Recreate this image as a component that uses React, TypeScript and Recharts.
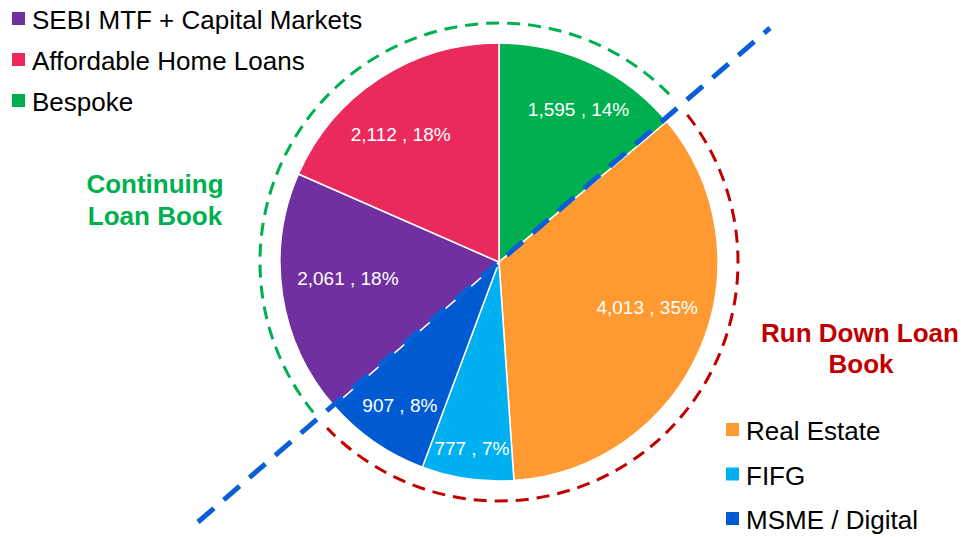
import { PieChart, Pie, Cell, Legend, Customized } from "recharts";

const segments = ["Bespoke", "Real Estate", "FIFG", "MSME / Digital", "SEBI MTF + Capital Markets", "Affordable Home Loans"];
const amounts = [1595, 4013, 777, 907, 2061, 2112];
const colors = ["#00B050", "#FF9A33", "#00B0F0", "#005BD3", "#7030A0", "#EA2A5C"];

const continuingBook = ["SEBI MTF + Capital Markets", "Affordable Home Loans", "Bespoke"];
const runDownBook = ["Real Estate", "FIFG", "MSME / Digital"];

const data = segments.map((name, i) => ({ name, value: amounts[i] }));

const W = 962;
const H = 537;
const CX = 499;
const CY = 262;
const R = 219;
const RING = 239;
const FONT = "'Liberation Sans', Arial, sans-serif";
const RAD = Math.PI / 180;

// label placement tweaks per slice (distance from centre, angle nudge in degrees)
const labelR = [172, 155, 188, 174, 152, 161];
const labelNudge = [-2.5, 6, 0, 0, -2.5, 4.5];

const fmt = (n: number) => n.toLocaleString("en-US");

function renderLabel(props: any) {
  const { cx, cy, midAngle, percent, index, value } = props;
  const r = labelR[index] ?? 160;
  const a = midAngle + (labelNudge[index] ?? 0);
  const x = cx + r * Math.cos(-a * RAD);
  const y = cy + r * Math.sin(-a * RAD);
  return (
    <text x={x} y={y} fill="#fff" fontSize={19} fontFamily={FONT} textAnchor="middle" dominantBaseline="central">
      {`${fmt(value)} , ${Math.round(percent * 100)}%`}
    </text>
  );
}

// point at clockwise angle (deg) from 12 o'clock
const pt = (deg: number, r: number) => [CX + r * Math.sin(deg * RAD), CY - r * Math.cos(deg * RAD)];

function arcPath(from: number, to: number, r: number) {
  const [x1, y1] = pt(from, r);
  const [x2, y2] = pt(to, r);
  return `M${x1},${y1} A${r},${r} 0 0 1 ${x2},${y2}`;
}

function Decorations() {
  return (
    <g>
      <path d={arcPath(231, 407, RING)} fill="none" stroke="#00B050" strokeWidth={3} strokeDasharray="13 8" />
      <path d={arcPath(52, 226, RING)} fill="none" stroke="#C00000" strokeWidth={3} strokeDasharray="13 8" />
      <text x={155} y={193} fill="#00B050" fontSize={26} fontWeight="bold" fontFamily={FONT} textAnchor="middle">Continuing</text>
      <text x={155} y={225} fill="#00B050" fontSize={26} fontWeight="bold" fontFamily={FONT} textAnchor="middle">Loan Book</text>
      <text x={860} y={342} fill="#C00000" fontSize={26} fontWeight="bold" fontFamily={FONT} textAnchor="middle">Run Down Loan</text>
      <text x={861} y={373} fill="#C00000" fontSize={26} fontWeight="bold" fontFamily={FONT} textAnchor="middle">Book</text>
    </g>
  );
}

function LegendGroups({ payload }: any) {
  const items = (payload || []) as any[];
  const find = (n: string) => items.find((p) => p.value === n);
  const row = (name: string, i: number, x: number, top: number, step: number) => {
    const p = find(name);
    const y = top + i * step;
    return (
      <g key={name}>
        <rect x={x} y={y} width={13} height={13} fill={p ? p.color : "#999"} />
        <text x={x + 20} y={y + 17} fontSize={26} fontFamily={FONT} fill="#000">{name}</text>
      </g>
    );
  };
  return (
    <svg width={W} height={H} style={{ position: "absolute", left: 0, top: 0 }}>
      {continuingBook.map((n, i) => row(n, i, 12, 12, 41))}
      {runDownBook.map((n, i) => row(n, i, 726, 423, 44.5))}
    </svg>
  );
}

export default function App() {
  return (
    <div style={{ position: "absolute", left: 0, top: 0, width: W, height: H, background: "#fff" }}>
      <PieChart width={W} height={H} margin={{ top: 0, right: 0, bottom: 0, left: 0 }}>
        <Pie
          data={data}
          dataKey="value"
          nameKey="name"
          cx={CX}
          cy={CY}
          outerRadius={R}
          startAngle={90}
          endAngle={-270}
          stroke="#fff"
          strokeWidth={1.5}
          label={renderLabel}
          labelLine={false}
          isAnimationActive={false}
        >
          {data.map((d, i) => (
            <Cell key={d.name} fill={colors[i]} />
          ))}
        </Pie>
        <Customized component={Decorations} />
        <Legend
          verticalAlign="bottom"
          content={LegendGroups}
          wrapperStyle={{ position: "absolute", left: 0, top: 0, width: W, height: H, pointerEvents: "none" }}
        />
      </PieChart>
      {/* split line between the two books, drawn over the pie */}
      <svg width={W} height={H} style={{ position: "absolute", left: 0, top: 0, pointerEvents: "none" }}>
        <line x1={198} y1={522} x2={770} y2={28} stroke="#0A5FD6" strokeWidth={5} strokeDasharray="21 13" />
      </svg>
    </div>
  );
}
